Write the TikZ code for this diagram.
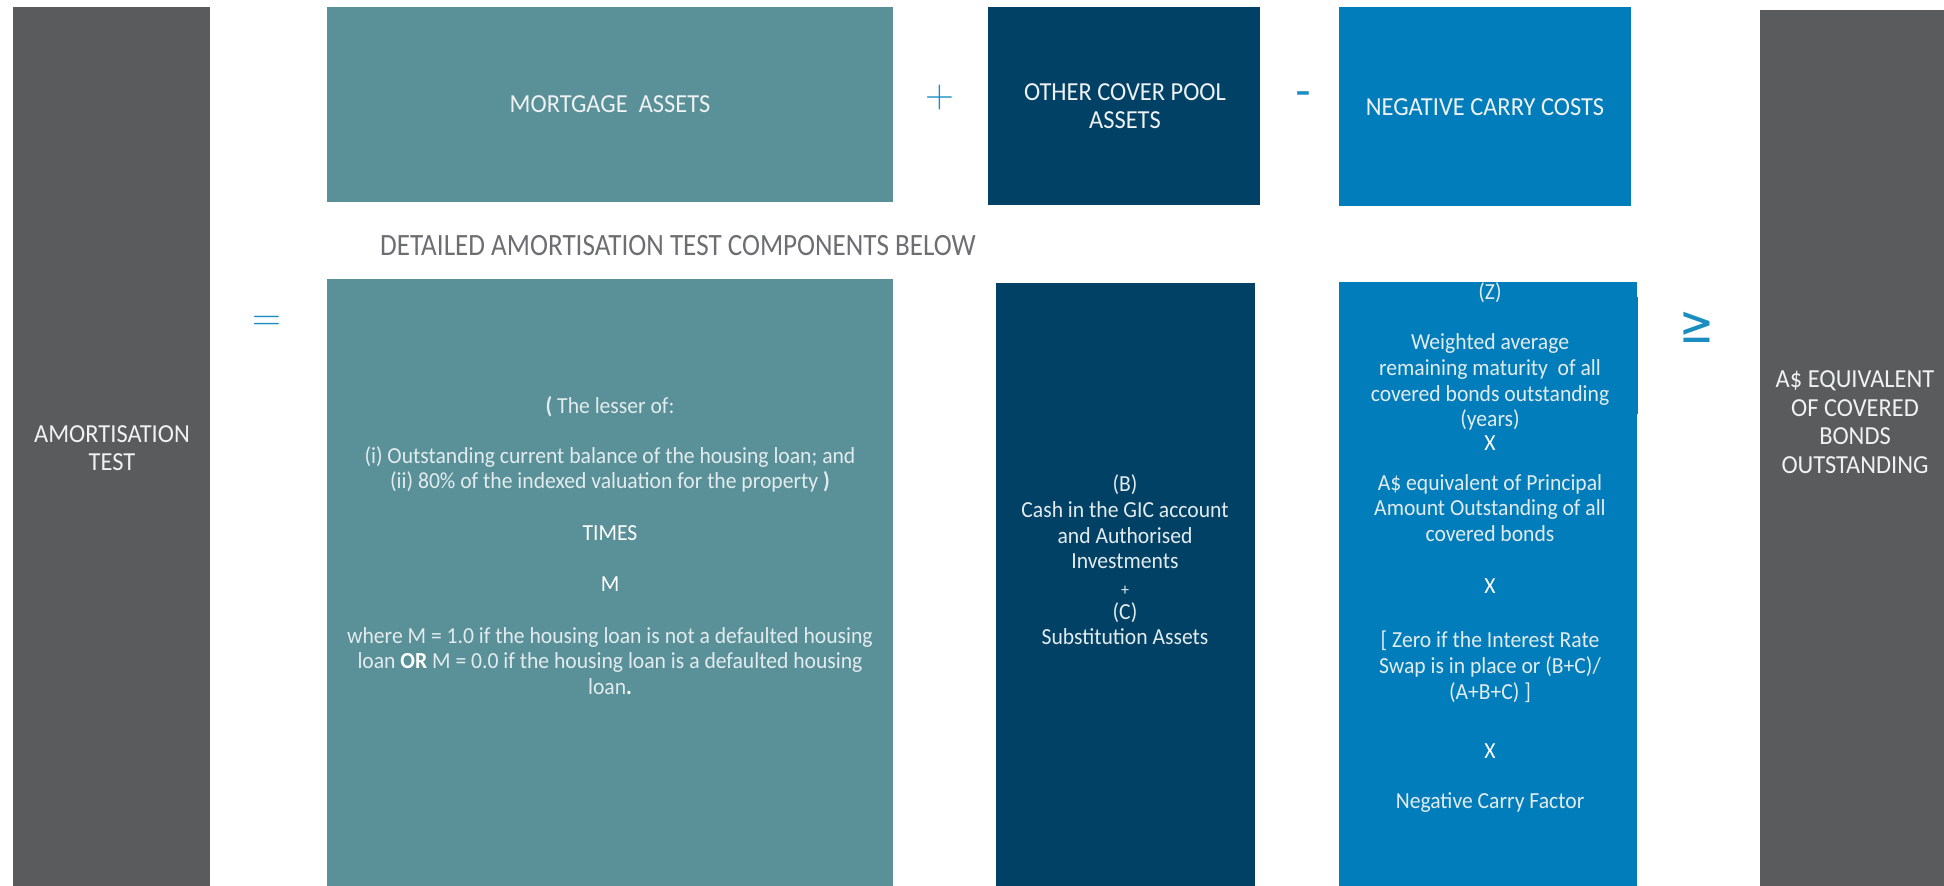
\documentclass[tikz,border=0pt]{standalone}
\usepackage{fontspec}
\setmainfont[FakeStretch=0.94]{Carlito}
\newfontfamily\titlefont[FakeStretch=0.875]{Carlito}
\newfontfamily\lmfont{Latin Modern Roman}
\newfontfamily\djfont{DejaVu Sans}
\newfontfamily\geqfont[FakeStretch=0.8]{DejaVu Sans}
\definecolor{cgray}{HTML}{5A5B5D}
\definecolor{cteal}{HTML}{5A9199}
\definecolor{cnavy}{HTML}{024166}
\definecolor{cblue}{HTML}{027DBB}
\definecolor{csym}{HTML}{1A8DC1}
\definecolor{ctitle}{HTML}{6D6E71}
\definecolor{clbl}{HTML}{EEF2F3}
\definecolor{cbody}{HTML}{E2EBED}
\begin{document}
\begin{tikzpicture}[x=1pt,y=-1pt,
  box/.style={draw=none,inner sep=0pt,outer sep=0pt,anchor=north west},
  lbl/.style={text=clbl,align=center,inner sep=0pt,font=\fontsize{26}{28.5}\selectfont},
  ln/.style={text=cbody,inner sep=0pt,text height=17pt,text depth=5pt,font=\fontsize{23}{25.5}\selectfont},
  lnw/.style={ln,text=white},
  symb/.style={text=csym,inner sep=0pt}]
\useasboundingbox (0,0) rectangle (1944,886);
% boxes
\node[box,fill=cgray,minimum width=197pt,minimum height=879pt] (amort) at (13,7) {};
\node[box,fill=cteal,minimum width=566pt,minimum height=195pt] (mort) at (327,7) {};
\node[box,fill=cnavy,minimum width=272pt,minimum height=198pt] (other) at (988,7) {};
\node[box,fill=cblue,minimum width=292pt,minimum height=199pt] (negc) at (1339,7) {};
\node[box,fill=cgray,minimum width=184pt,minimum height=876pt] (equiv) at (1760,10) {};
\node[box,fill=cteal,minimum width=566pt,minimum height=607pt] (mortd) at (327,279) {};
\node[box,fill=cnavy,minimum width=259pt,minimum height=603pt] (otherd) at (996,283) {};
\node[box,fill=cblue,minimum width=298pt,minimum height=604pt] (negd) at (1339,282) {};
\node[box,fill=cblue,minimum width=1.5pt,minimum height=117pt] (negdtab) at (1636.5,297) {};
% labels
\node[lbl] (amortl) at (112,448) {AMORTISATION\\TEST};
\node[lbl] (mortl) at (610,104) {MORTGAGE\ \ ASSETS};
\node[lbl] (otherl) at (1125,106) {OTHER COVER POOL\\ASSETS};
\node[lbl] (negcl) at (1485,107) {NEGATIVE CARRY COSTS};
\node[lbl] (equivl) at (1855,422) {A\$ EQUIVALENT\\OF COVERED\\BONDS\\OUTSTANDING};
\node[text=ctitle,inner sep=0pt,font=\titlefont\fontsize{31}{34}\selectfont] (title) at (678,246) {DETAILED AMORTISATION TEST COMPONENTS BELOW};
% operators
\node[symb,font=\lmfont\fontsize{40}{40}\selectfont] (plus) at (940,98) {+};
\node[symb,font=\djfont\fontsize{44}{44}\selectfont] (minus) at (1303,99) {-};
\node[symb,font=\lmfont\fontsize{40}{40}\selectfont] (eq) at (267,323) {=};
\node[symb,font=\geqfont\fontsize{52}{52}\selectfont] (geq) at (1697,327) {≥};
% mortgage detail
\node[ln] (m1) at (610,407) {\textbf{(} The lesser of:};
\node[ln] (m2) at (610,457) {(i) Outstanding current balance of the housing loan; and};
\node[ln] (m3) at (610,482) {(ii) 80\% of the indexed valuation for the property \textbf{)}};
\node[lnw] (m4) at (610,534) {TIMES};
\node[lnw] (m5) at (610,585) {M};
\node[ln] (m6) at (610,637) {where M = 1.0 if the housing loan is not a defaulted housing};
\node[ln] (m7) at (610,662) {loan \textcolor{white}{\textbf{OR}} M = 0.0 if the housing loan is a defaulted housing};
\node[ln] (m8) at (610,688) {loan\textcolor{white}{\textbf{.}}};
% other cover pool detail
\node[ln] (o1) at (1125,485) {(B)};
\node[ln] (o2) at (1125,511) {Cash in the GIC account};
\node[ln] (o3) at (1125,537) {and Authorised};
\node[ln] (o4) at (1125,562) {Investments};
\node[ln,font=\fontsize{17}{20}\selectfont] (o5) at (1125,589) {+};
\node[ln] (o6) at (1125,613) {(C)};
\node[ln] (o7) at (1125,638) {Substitution Assets};
% negative carry detail
\node[ln] (n1) at (1490,293) {(Z)};
\node[ln] (n2) at (1490,343) {Weighted average};
\node[ln] (n3) at (1490,369) {remaining maturity\ \ of all};
\node[ln] (n4) at (1490,395) {covered bonds outstanding};
\node[ln] (n5) at (1490,420) {(years)};
\node[lnw] (n6) at (1490,444) {X};
\node[ln] (n7) at (1490,484) {A\$ equivalent of Principal};
\node[ln] (n8) at (1490,509) {Amount Outstanding of all};
\node[ln] (n9) at (1490,535) {covered bonds};
\node[lnw] (n10) at (1490,587) {X};
\node[ln] (n11) at (1490,641) {[ Zero if the Interest Rate};
\node[ln] (n12) at (1490,667) {Swap is in place or (B+C)/};
\node[ln] (n13) at (1490,693) {(A+B+C) ]};
\node[lnw] (n14) at (1490,752) {X};
\node[ln] (n15) at (1490,802) {Negative Carry Factor};
\end{tikzpicture}
\end{document}
